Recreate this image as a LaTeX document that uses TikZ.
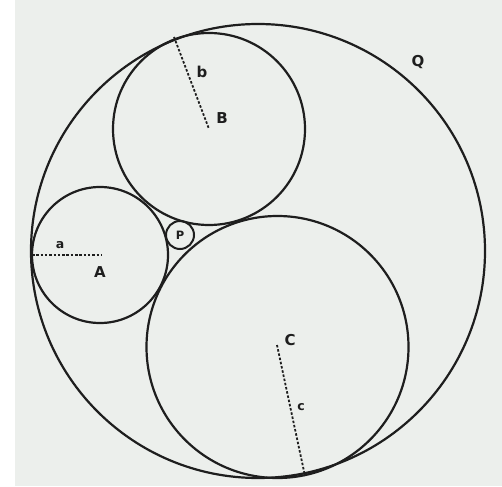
\documentclass[tikz,border=0pt]{standalone}
\usepackage{fontspec}
\setmainfont{DejaVu Sans}
\definecolor{paper}{RGB}{236,239,236}
\definecolor{ink}{RGB}{30,30,30}
\begin{document}
\begin{tikzpicture}[x=1pt,y=-1pt,
  ring/.style={draw=ink,line width=2.2pt},
  radius line/.style={draw=ink,line width=1.8pt,dash pattern=on 2.5pt off 1.8pt},
  big/.style={font=\fontsize{15}{15}\selectfont\bfseries,inner sep=1pt,text=ink},
  small/.style={font=\fontsize{12.5}{12.5}\selectfont\bfseries,inner sep=1pt,text=ink}]
\useasboundingbox (0,0) rectangle (502,486);
\fill[white] (0,0) rectangle (502,486);
\fill[paper] (15,0) rectangle (502,486);
% centres
\coordinate (O) at (258,251);
\coordinate (A) at (100,255);
\coordinate (B) at (209,129);
\coordinate (C) at (277.5,347);
\coordinate (P) at (180,235);
% circles
\draw[ring] (O) circle[radius=227pt];
\draw[ring] (A) circle[radius=68pt];
\draw[ring] (B) circle[radius=96pt];
\draw[ring] (C) circle[radius=131pt];
\draw[ring,line width=2pt] (P) circle[radius=14pt];
% radius end points
\coordinate (aend) at (32,255);
\coordinate (bend) at (174,37);
\coordinate (cend) at (305,476);
\coordinate (A0) at (102,255);
\coordinate (B0) at (209,129);
\coordinate (C0) at (277,345);
\draw[radius line] (aend) -- (A0);
\draw[radius line] (bend) -- (B0);
\draw[radius line] (C0) -- (cend);
% labels
\node[big] (lA) at (100,272) {A};
\node[big] (lB) at (222,118) {B};
\node[big] (lC) at (290,340) {C};
\node[small] (la) at (60,245) {a};
\node[big] (lb) at (202,72) {b};
\node[small] (lc) at (301,407) {c};
\node[big] (lQ) at (418,62) {Q};
\node[font=\fontsize{11.5}{11.5}\selectfont\bfseries,inner sep=0pt,text=ink] (lP) at (180,235) {P};
\end{tikzpicture}
\end{document}
